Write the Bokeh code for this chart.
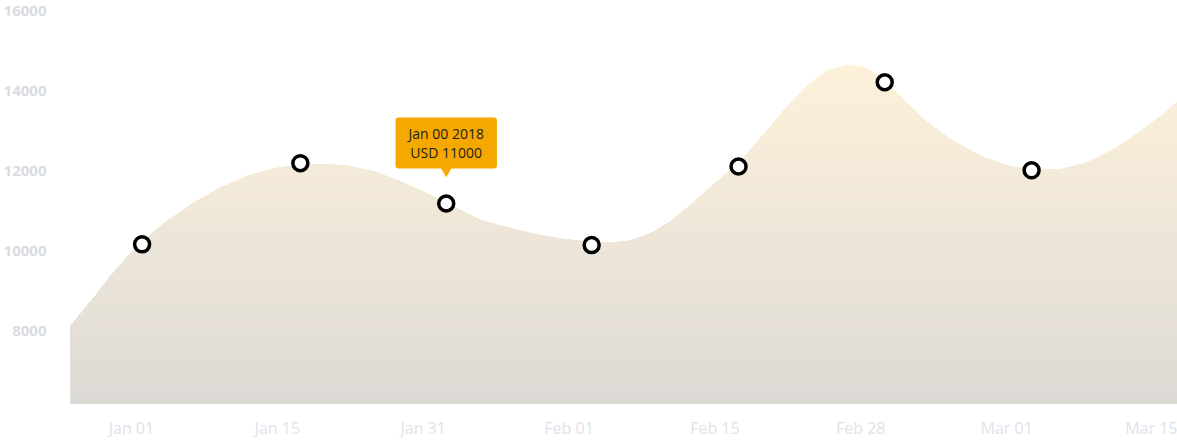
import numpy as np
from bokeh.plotting import figure
from bokeh.models import FixedTicker, Range1d, Label
from bokeh.embed import file_html
from bokeh.resources import INLINE

# ---------------- data ----------------
TICK_LABELS = ["Jan 01", "Jan 15", "Jan 31", "Feb 01", "Feb 15", "Feb 28", "Mar 01", "Mar 15"]
Y_TICKS = [8000, 10000, 12000, 14000, 16000]

# highlighted points (x in tick-index units, y in USD)
PT_X = [0.073, 1.158, 2.158, 3.155, 4.162, 5.164, 6.171]
PT_Y = [10163, 12197, 11187, 10145, 12113, 14226, 12018]

# smooth background area, read along its top edge
AREA_X = [-0.418, -0.251, -0.137, -0.023, 0.114, 0.251, 0.434, 0.616, 0.799, 0.982,
          1.164, 1.324, 1.484, 1.666, 1.849, 2.032, 2.214, 2.397, 2.534, 2.740,
          2.945, 3.151, 3.288, 3.425, 3.562, 3.699, 3.836, 3.973, 4.075, 4.178,
          4.315, 4.475, 4.635, 4.772, 4.909, 5.023, 5.137, 5.274, 5.434, 5.616,
          5.822, 6.005, 6.188, 6.370, 6.553, 6.735, 6.918, 7.055, 7.171]
AREA_Y = [8118, 8863, 9401, 9872, 10351, 10766, 11220, 11592, 11882, 12073,
          12155, 12172, 12130, 11989, 11740, 11428, 11095, 10766, 10629, 10443,
          10307, 10220, 10195, 10257, 10443, 10741, 11162, 11609, 11931, 12254,
          12832, 13537, 14157, 14529, 14668, 14611, 14363, 13867, 13288, 12792,
          12378, 12130, 12023, 12048, 12212, 12544, 12998, 13370, 13742]

TIP_TEXT = "Jan 00 2018\nUSD 11000"

# ---------------- layout ----------------
W, H = 1177, 441
BORDER_L, BORDER_B = 69, 34
FRAME_W = W - BORDER_L
FRAME_H = H - BORDER_B
PX_PER_TICK = 146.0
PX_PER_USD = 0.04031
X0 = -0.4178
Y1 = 16273
Y0 = Y1 - FRAME_H / PX_PER_USD

p = figure(width=W, height=H, output_backend="svg", toolbar_location=None,
           x_range=Range1d(X0, X0 + FRAME_W / PX_PER_TICK),
           y_range=Range1d(Y0, Y1),
           min_border_left=BORDER_L, min_border_right=0,
           min_border_top=0, min_border_bottom=BORDER_B)
p.outline_line_color = None
p.background_fill_color = "white"
p.border_fill_color = "white"
p.xgrid.grid_line_color = None
p.ygrid.grid_line_color = None

# ---------------- gradient area (stacked bands) ----------------
ax = np.array(AREA_X, dtype=float)
ay = np.array(AREA_Y, dtype=float)
top_c = np.array([0xFD, 0xF1, 0xDA], dtype=float)
bot_c = np.array([0xDD, 0xDA, 0xD6], dtype=float)
N = 80
y_top = ay.max()
levels = np.linspace(y_top, Y0, N, endpoint=False)
for lv in levels:
    t = (y_top - lv) / (y_top - Y0)
    c = top_c + (bot_c - top_c) * t
    col = "#%02x%02x%02x" % tuple(int(round(v)) for v in c)
    p.varea(x=ax, y1=np.full_like(ay, Y0), y2=np.minimum(ay, lv),
            fill_color=col, fill_alpha=1.0)

# ---------------- points ----------------
p.scatter(PT_X, PT_Y, marker="circle", size=15, fill_color="white",
          line_color="black", line_width=3.5)

# ---------------- tooltip ----------------
p.scatter([PT_X[2]], [PT_Y[2] + 33 / PX_PER_USD], marker="inverted_triangle",
          size=11, fill_color="#f5a800", line_color=None)
tip = Label(x=PT_X[2], y=PT_Y[2], y_offset=35, text=TIP_TEXT,
            text_font="Open Sans", text_font_size="14px",
            text_color="#1c1c1c", text_align="center", text_baseline="bottom",
            text_line_height=1.05,
            background_fill_color="#f5a800", background_fill_alpha=1.0,
            border_radius=3,
            padding=dict(left=13, right=13, top=6, bottom=6))
p.add_layout(tip)

# ---------------- axes ----------------
p.xaxis.ticker = FixedTicker(ticks=list(range(len(TICK_LABELS))))
p.xaxis.major_label_overrides = {i: s for i, s in enumerate(TICK_LABELS)}
p.xaxis.axis_line_color = None
p.xaxis.major_tick_line_color = None
p.xaxis.minor_tick_line_color = None
p.xaxis.major_tick_out = 0
p.xaxis.major_tick_in = 0
p.xaxis.major_label_text_font = "Open Sans"
p.xaxis.major_label_text_font_size = "16px"
p.xaxis.major_label_text_color = "#e1e2e9"
p.xaxis.major_label_standoff = 13

p.yaxis.ticker = FixedTicker(ticks=Y_TICKS)
p.yaxis.axis_line_color = None
p.yaxis.major_tick_line_color = None
p.yaxis.minor_tick_line_color = None
p.yaxis.major_tick_out = 0
p.yaxis.major_tick_in = 0
p.yaxis.major_label_text_font = "Open Sans"
p.yaxis.major_label_text_font_style = "bold"
p.yaxis.major_label_text_font_size = "15px"
p.yaxis.major_label_text_color = "#d9dbe5"
p.yaxis.major_label_standoff = 24

open("out.html", "w").write(file_html(p, INLINE))
